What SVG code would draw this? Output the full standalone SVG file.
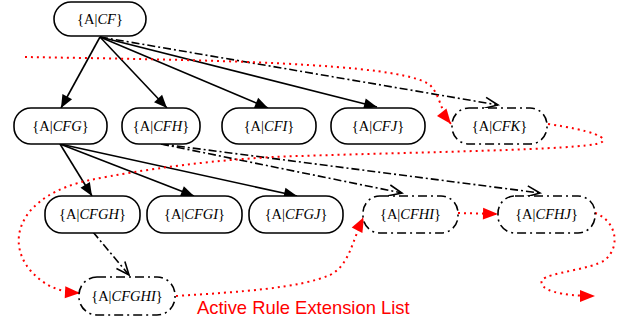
<svg xmlns="http://www.w3.org/2000/svg" width="632" height="327" viewBox="0 0 632 327">
<defs>
<style>
.node rect{fill:#fff;stroke:#000;stroke-width:1.6}
.node.dd rect{stroke-dasharray:9 4 2 4}
.node text{font-family:"Liberation Serif","Times New Roman",serif;font-size:14.5px;fill:#000;text-anchor:middle}
.node text tspan.i{font-style:italic}
.solid{fill:none;stroke:#000;stroke-width:1.6;marker-end:url(#filled)}
.dashdot{fill:none;stroke:#000;stroke-width:1.6;stroke-dasharray:8 3 2 3;marker-end:url(#open)}
.list{fill:none;stroke:#f00;stroke-width:2;stroke-dasharray:2 4;marker-end:url(#red)}
.label{font-family:"Liberation Sans",Arial,sans-serif;font-size:18.4px;fill:#f00}
</style>
<marker id="filled" markerUnits="userSpaceOnUse" markerWidth="13" markerHeight="11" refX="13" refY="5.5" orient="auto" overflow="visible">
<path d="M0,0 L13,5.5 L0,11 z" fill="#000"/>
</marker>
<marker id="open" markerUnits="userSpaceOnUse" markerWidth="14" markerHeight="11" refX="13" refY="5.5" orient="auto" overflow="visible">
<path d="M0,0 L13,5.5 L0,11" fill="none" stroke="#000" stroke-width="1.6"/>
</marker>
<marker id="red" markerUnits="userSpaceOnUse" markerWidth="15" markerHeight="12" refX="15" refY="6" orient="auto" overflow="visible">
<path d="M0,0 L15,6 L0,12 z" fill="#f00"/>
</marker>
</defs>

<g id="connectors">
<path class="solid" d="M100,37 L61,108"/>
<path class="solid" d="M100,37 L167,108"/>
<path class="solid" d="M100,37 L268,108"/>
<path class="solid" d="M100,37 L377,107"/>
<path class="dashdot" d="M100,37 L498,105"/>
<path class="solid" d="M60,144 L92,196"/>
<path class="solid" d="M60,144 L194,196"/>
<path class="solid" d="M60,144 L297,196"/>
<path class="dashdot" d="M161,144 L402,193"/>
<path class="dashdot" d="M161,144 L540,193"/>
<path class="dashdot" d="M93,232 L129,275"/>
</g>

<g id="active-rule-extension-list">
<path class="list" d="M25,57 C200,60 400,62 430,85 C440,95 440,110 451,124"/>
<path class="list" d="M548,124 C590,130 612,138 600,143 C580,150 420,152 300,156 C220,158 140,170 90,180 C20,195 5,240 30,270 C45,287 60,292 80,293"/>
<path class="list" d="M176,296 C240,292 300,288 330,275 C350,265 352,240 364,217"/>
<path class="list" d="M458,213 L498,214"/>
<path class="list" d="M595,213 C615,220 622,245 605,260 C590,270 550,272 542,280 C538,290 560,296 595,296"/>
<text class="label" x="197" y="314">Active Rule Extension List</text>
</g>

<g id="n-CF" class="node"><rect x="54" y="2" width="92" height="34" rx="17"/><text x="100" y="24">{A|<tspan class="i">CF</tspan>}</text></g>
<g id="n-CFG" class="node"><rect x="14" y="108" width="93" height="36" rx="17"/><text x="60.5" y="131">{A|<tspan class="i">CFG</tspan>}</text></g>
<g id="n-CFH" class="node"><rect x="122" y="108" width="78" height="36" rx="17"/><text x="161" y="131">{A|<tspan class="i">CFH</tspan>}</text></g>
<g id="n-CFI" class="node"><rect x="222" y="108" width="94" height="36" rx="17"/><text x="269" y="131">{A|<tspan class="i">CFI</tspan>}</text></g>
<g id="n-CFJ" class="node"><rect x="331" y="108" width="94" height="36" rx="17"/><text x="378" y="131">{A|<tspan class="i">CFJ</tspan>}</text></g>
<g id="n-CFK" class="node dd"><rect x="452" y="108" width="95" height="36" rx="17"/><text x="499.5" y="131">{A|<tspan class="i">CFK</tspan>}</text></g>
<g id="n-CFGH" class="node"><rect x="45" y="196" width="95" height="37" rx="17"/><text x="92.5" y="219">{A|<tspan class="i">CFGH</tspan>}</text></g>
<g id="n-CFGI" class="node"><rect x="147" y="196" width="95" height="37" rx="17"/><text x="194.5" y="219">{A|<tspan class="i">CFGI</tspan>}</text></g>
<g id="n-CFGJ" class="node"><rect x="249" y="196" width="94" height="37" rx="17"/><text x="296" y="219">{A|<tspan class="i">CFGJ</tspan>}</text></g>
<g id="n-CFHI" class="node dd"><rect x="363" y="196" width="95" height="37" rx="17"/><text x="410.5" y="219">{A|<tspan class="i">CFHI</tspan>}</text></g>
<g id="n-CFHJ" class="node dd"><rect x="498" y="196" width="97" height="37" rx="17"/><text x="546.5" y="219">{A|<tspan class="i">CFHJ</tspan>}</text></g>
<g id="n-CFGHI" class="node dd"><rect x="79" y="277" width="96" height="38" rx="18"/><text x="127" y="301">{A|<tspan class="i">CFGHI</tspan>}</text></g>
</svg>
